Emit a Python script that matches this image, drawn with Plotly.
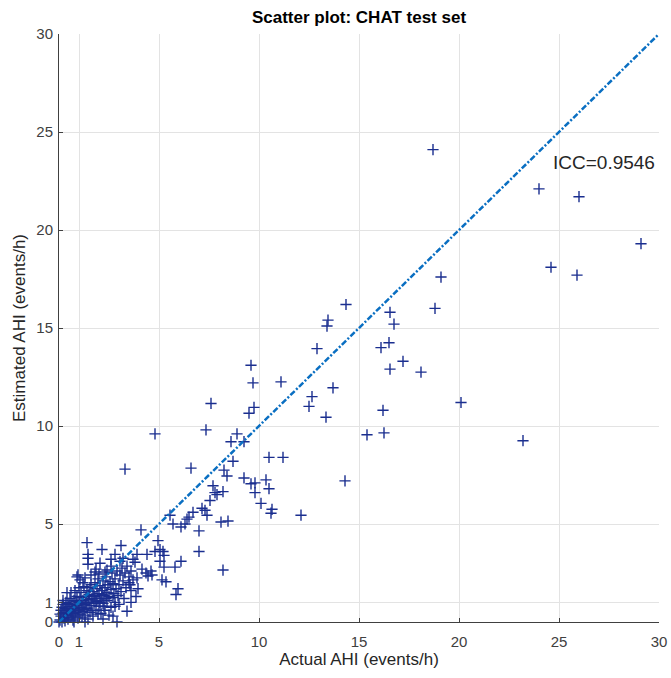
import plotly.graph_objects as go

# ---- data ----
high_actual = [18.7, 24.0, 26.0, 29.1, 24.6, 25.9, 19.1, 14.35, 18.8, 16.55, 16.75,
               13.45, 13.4, 12.9, 16.5, 16.1, 17.2, 16.55, 18.1, 9.6, 9.7, 11.1, 13.7,
               12.65, 12.5, 13.35, 16.2, 15.4, 16.25, 9.75, 9.5, 9.25, 10.5, 11.2, 20.1,
               23.2, 14.3, 4.8, 3.3]
high_estimated = [24.1, 22.1, 21.7, 19.3, 18.1, 17.7, 17.6, 16.2, 16.0, 15.8, 15.2,
                  15.4, 15.1, 13.95, 14.25, 14.0, 13.3, 12.9, 12.75, 13.1, 12.2, 12.25, 11.95,
                  11.5, 11.0, 10.45, 10.8, 9.55, 9.65, 10.95, 10.65, 9.2, 8.4, 8.4, 11.2,
                  9.25, 7.2, 9.6, 7.8]

mid_actual = [7.6, 7.35, 8.9, 8.6, 6.6, 8.7, 8.25, 8.4, 9.25, 9.6, 9.8, 10.35, 10.5, 9.8,
              7.7, 7.8, 7.9, 8.2, 7.55, 10.1, 10.65, 10.6, 12.1, 7.15, 7.3, 7.4, 6.7, 5.55,
              5.7, 6.1, 6.3, 6.4, 6.5, 7.0, 8.1, 8.45,
              7.0, 8.2, 4.1, 4.95, 5.05, 4.8, 5.2, 5.25, 4.4, 3.9, 3.7, 3.8, 5.05, 5.25, 5.8,
              6.1, 4.15, 4.35, 4.6, 4.45, 4.65, 3.9, 5.15, 5.35, 5.95, 5.85, 3.95, 3.85, 3.5, 3.6]
mid_estimated = [11.15, 9.8, 9.6, 9.2, 7.85, 8.2, 7.75, 7.45, 7.35, 7.05, 7.1, 7.25, 6.8, 6.6,
                 6.95, 6.6, 6.5, 6.65, 6.2, 6.05, 5.75, 5.55, 5.45, 5.8, 5.7, 5.45, 5.6, 5.45,
                 5.0, 4.85, 5.0, 5.25, 5.35, 4.65, 5.1, 5.15,
                 3.6, 2.65, 4.7, 4.15, 3.7, 3.6, 3.6, 3.4, 3.45, 3.45, 3.2, 3.05, 3.1, 2.8, 2.8,
                 3.1, 2.7, 2.5, 2.6, 2.35, 2.4, 2.25, 2.15, 2.05, 1.7, 1.4, 1.7, 1.3, 2.0, 1.6]

low_actual = [1.4, 1.45, 1.45, 1.45, 2.15, 3.1, 3.2, 2.8, 2.05, 1.8, 2.3, 0.95, 1.05, 1.3,
              0.4, 3.4, 2.7, 2.9, 2.8, 2.6, 3.05, 1.85, 0.9,
              0.05, 0.1, 0.1, 0.15, 0.2, 0.2, 0.25, 0.3, 0.3, 0.35, 0.4, 0.4, 0.45, 0.5, 0.5,
              0.55, 0.6, 0.6, 0.65, 0.7, 0.7, 0.75, 0.8, 0.8, 0.85, 0.9, 0.9, 0.95, 1.0, 1.0,
              1.05, 1.1, 1.1, 1.15, 1.2, 1.2, 1.25, 1.3, 1.3, 1.35, 1.4, 1.4, 1.45, 1.5, 1.5,
              1.55, 1.6, 1.6, 1.65, 1.7, 1.7, 1.75, 1.8, 1.8, 1.85, 1.9, 1.9, 1.95, 2.0, 2.0,
              2.05, 2.1, 2.1, 2.15, 2.2, 2.2, 2.25, 2.3, 2.3, 2.35, 2.4, 2.4, 2.45, 2.5, 2.5,
              2.55, 2.6, 2.6, 2.65, 2.7, 2.7, 2.75, 2.8, 2.8, 2.85, 2.9, 2.95, 3.0, 3.05, 3.1,
              3.15, 3.2, 3.25, 3.3, 3.35, 3.4, 3.5, 3.55, 3.6, 3.7,
              0.0, 0.05, 0.15, 0.25, 0.35, 0.45, 0.55, 0.65, 0.75, 0.85, 0.95, 1.05, 1.15,
              1.25, 1.35, 1.45, 1.55, 1.65, 1.75, 1.85, 1.95, 2.05, 2.15, 2.25, 2.35, 0.6,
              0.2, 1.0, 1.2, 0.8, 2.4, 2.6, 1.6, 2.0, 3.0, 3.6, 2.2, 1.3]
low_estimated = [4.05, 3.45, 3.25, 2.95, 3.7, 3.9, 3.25, 3.45, 3.0, 2.55, 2.55, 2.4, 2.15, 2.25,
                 1.5, 0.55, 0.3, 0.0, 0.8, 3.2, 3.1, 2.7, 2.3,
                 0.1, 0.3, 0.6, 0.0, 0.45, 0.9, 0.2, 0.7, 0.05, 1.0, 0.35, 0.6, 0.15, 0.8, 0.4,
                 1.2, 0.25, 0.55, 0.9, 0.1, 0.45, 1.1, 0.7, 0.3, 0.5, 1.3, 0.85, 0.2, 0.6, 1.0,
                 0.4, 1.5, 0.75, 0.25, 1.1, 0.55, 1.8, 0.9, 0.35, 1.3, 0.7, 1.6, 0.15, 1.0, 1.4,
                 0.5, 1.9, 0.85, 1.2, 0.3, 1.55, 0.95, 2.0, 1.3, 0.6, 1.7, 1.05, 2.2, 1.45, 0.8,
                 1.85, 1.2, 0.45, 1.6, 2.1, 0.95, 1.35, 1.75, 0.6, 2.3, 1.5, 1.1, 1.9, 0.35, 1.3,
                 2.05, 1.65, 0.75, 2.5, 1.25, 1.95, 1.45, 2.2, 1.0, 1.7, 2.6, 1.35, 1.9, 2.4, 1.55,
                 2.75, 2.1, 1.2, 2.5, 1.75, 2.85, 2.3, 1.9, 2.6, 2.15,
                 0.0, 0.4, 0.75, 0.5, 0.25, 0.95, 0.65, 0.35, 0.0, 1.05, 0.6, 1.25, 0.95,
                 0.65, 1.0, 1.15, 1.75, 0.6, 1.35, 1.1, 0.4, 1.0, 1.4, 0.8, 1.2, 1.5,
                 1.1, 1.75, 2.0, 1.6, 2.65, 2.85, 2.4, 2.45, 0.9, 1.0, 0.15, 0.0]

identity_x = [0, 30]
identity_y = [0, 30]
x_ticks = [0, 1, 5, 10, 15, 20, 25, 30]
y_ticks = [0, 1, 5, 10, 15, 20, 25, 30]
icc_label = "ICC=0.9546"

actual = high_actual + mid_actual + low_actual
estimated = high_estimated + mid_estimated + low_estimated

FONT = "Liberation Sans, Arial, Helvetica, sans-serif"
TXT = "#262626"

fig = go.Figure()
fig.add_trace(go.Scatter(
    x=actual, y=estimated, mode="markers",
    marker=dict(symbol="cross-thin", size=8, line=dict(color="#1a2e8f", width=1.4)),
    showlegend=False, hoverinfo="skip", cliponaxis=False))
fig.add_trace(go.Scatter(
    x=identity_x, y=identity_y, mode="lines",
    line=dict(color="#0a6fc2", width=2.5, dash="6px,2px,2px,2px"),
    showlegend=False, hoverinfo="skip"))

fig.add_annotation(x=29.92, y=23.45, text=icc_label, showarrow=False,
                   xanchor="right", yanchor="middle",
                   font=dict(family=FONT, size=19, color=TXT))

axis_common = dict(
    showgrid=True, gridcolor="#e3e3e3", gridwidth=1, zeroline=False,
    showline=True, linecolor="#404040", linewidth=1, mirror=False,
    ticks="inside", ticklen=4, tickcolor="#404040",
    tickfont=dict(family=FONT, size=15, color="#404040"),
    range=[0, 30], fixedrange=True, automargin=False)

fig.update_xaxes(**axis_common, tickvals=x_ticks, ticklabelstandoff=6,
                 title=dict(text="Actual AHI (events/h)", standoff=4,
                            font=dict(family=FONT, size=17, color=TXT)))
fig.update_yaxes(**axis_common, tickvals=y_ticks, ticklabelstandoff=2,
                 title=dict(text="Estimated AHI (events/h)", standoff=6,
                            font=dict(family=FONT, size=17, color=TXT)))

fig.update_layout(
    width=671, height=678,
    margin=dict(l=59, r=12, t=34, b=56),
    plot_bgcolor="white", paper_bgcolor="white",
    title=dict(text="<b>Scatter plot: CHAT test set</b>", x=(59 + 300) / 671, xanchor="center",
               y=1 - 17 / 678, yanchor="middle",
               font=dict(family=FONT, size=17, color="#000000")),
)

fig.write_html("out.html")
